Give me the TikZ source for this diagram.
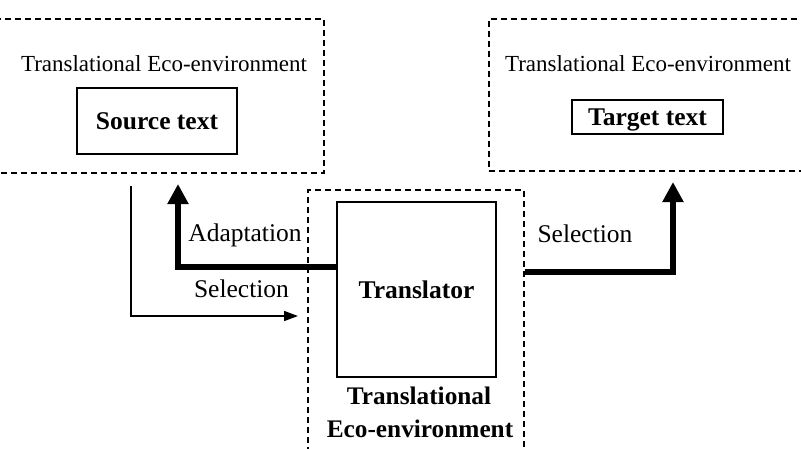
\documentclass[tikz,border=0pt]{standalone}
\usepackage{fontspec}
\setmainfont{Liberation Serif}
\usetikzlibrary{arrows.meta}
\begin{document}
\begin{tikzpicture}[x=1pt,y=-1pt,
  envbox/.style={draw, dash pattern=on 6pt off 4pt, line width=1.6pt, inner sep=0pt, anchor=north west},
  textbox/.style={draw, line width=1.5pt, font=\fontsize{25.5}{30}\selectfont\bfseries, text height=17pt, text depth=0pt, inner sep=0pt},
  envlabel/.style={anchor=base, font=\fontsize{23}{27}\selectfont, inner sep=0pt},
  lbl/.style={anchor=base, font=\fontsize{25.5}{30}\selectfont, inner sep=0pt},
  blbl/.style={anchor=base, font=\fontsize{25.3}{30}\selectfont\bfseries, inner sep=0pt},
  thickarrow/.style={line width=6pt, -{Triangle[width=20pt,length=20pt]}},
  thinarrow/.style={line width=1.6pt, -{Triangle[width=10pt,length=14pt]}}]
\useasboundingbox (0,0) rectangle (801,448);
\clip (0,0) rectangle (801,448);

% dashed environments
\node[envbox, minimum width=333pt, minimum height=154pt] (lenv) at (-10,18) {};
\node[envbox, minimum width=323pt, minimum height=152pt] (renv) at (488,18) {};
\node[envbox, minimum width=216pt, minimum height=281pt] (menv) at (307,189) {};

% solid boxes
\node[textbox, minimum width=160pt, minimum height=66pt] (src) at (157,121) {Source text};
\node[textbox, minimum width=151pt, minimum height=34pt] (tgt) at (647.5,117) {Target text};
\node[textbox, minimum width=159pt, minimum height=175pt] (trans) at (416.5,289.5) {Translator};

% labels
\node[envlabel] (lenvlbl) at (164,71) {Translational Eco-environment};
\node[envlabel] (renvlbl) at (648,71) {Translational Eco-environment};
\node[lbl] (adapt) at (245,241) {Adaptation};
\node[lbl] (selL) at (241.5,297) {Selection};
\node[lbl] (selR) at (585,242) {Selection};
\node[blbl] (mlbl1) at (419,404) {Translational};
\node[blbl] (mlbl2) at (420,437) {Eco-environment};

% connector coordinates
\coordinate (adlevel) at (0,267);
\coordinate (adstart) at (trans.west |- adlevel);
\coordinate (adtip) at (178,184);
\coordinate (sellevel) at (0,272);
\coordinate (selstart) at (menv.east |- sellevel);
\coordinate (seltip) at (673,182);
\coordinate (thinstart) at (131,186);
\coordinate (thinend) at (298,316);

% connectors
\draw[thickarrow] (adstart) -| (adtip);
\draw[thickarrow] (selstart) -| (seltip);
\draw[thinarrow] (thinstart) |- (thinend);
\end{tikzpicture}
\end{document}
